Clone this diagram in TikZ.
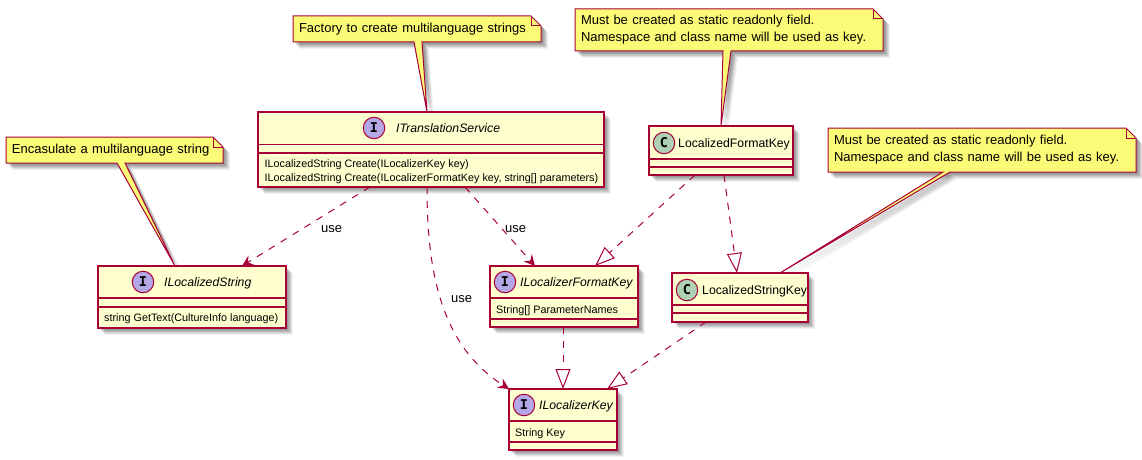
\documentclass[tikz,border=0pt]{standalone}
\usepackage{fontspec}
\setmainfont{Liberation Sans}
\newfontfamily\circfont{DejaVu Sans Mono}
\usetikzlibrary{arrows.meta,calc,backgrounds}
\definecolor{umlline}{HTML}{A80036}
\definecolor{umlfill}{HTML}{FEFECE}
\definecolor{umlnote}{HTML}{FBFB77}
\definecolor{circI}{HTML}{B4A7E5}
\definecolor{circC}{HTML}{ADD1B2}
\tikzset{
  softshadow/.style={
    preaction={fill=black,fill opacity=.09,transform canvas={shift={(2pt,-2pt)}}},
    preaction={fill=black,fill opacity=.09,transform canvas={shift={(3pt,-3pt)}}},
    preaction={fill=black,fill opacity=.09,transform canvas={shift={(4pt,-4pt)}}},
    preaction={fill=black,fill opacity=.09,transform canvas={shift={(5pt,-5pt)}}},
    preaction={fill=black,fill opacity=.07,transform canvas={shift={(6pt,-6pt)}}},
    preaction={fill=black,fill opacity=.05,transform canvas={shift={(7pt,-7pt)}}}},
  classbox/.style={draw=umlline,fill=umlfill,line width=1.2pt,anchor=north west,inner sep=0pt,outer sep=0pt,softshadow},
  classline/.style={draw=umlline,line width=1.2pt},
  notebox/.style={anchor=north west,inner sep=0pt,outer sep=0pt,align=left,font=\fontsize{13}{17}\selectfont},
  notepath/.style={draw=umlline,fill=umlnote,line width=1pt,line join=miter,softshadow},
  foldpath/.style={draw=umlline,line width=1pt},
  badge/.style={circle,draw=umlline,line width=1pt,minimum size=21.5pt,inner sep=0pt,font=\circfont\bfseries\fontsize{13.5}{13.5}\selectfont},
  titletext/.style={anchor=base west,inner sep=0pt,font=\fontsize{12.25}{12.25}\selectfont},
  membertext/.style={anchor=base west,inner sep=0pt,font=\fontsize{10.8}{10.8}\selectfont},
  labeltext/.style={anchor=base west,inner sep=0pt,font=\fontsize{13}{13}\selectfont},
  usearrow/.style={draw=umlline,line width=1pt,dash pattern=on 7pt off 7pt,-{Stealth[length=11pt,width=11pt,inset=4pt]}},
  implarrow/.style={draw=umlline,line width=1pt,dash pattern=on 7pt off 7pt,-{Triangle[open,fill=white,length=20pt,width=15pt,line width=1pt]}}
}
\newcommand{\seps}[3]{%
  \draw[classline] ($(#1.north west)+(0,#2)$) -- ($(#1.north east)+(0,#2)$);
  \draw[classline] ($(#1.north west)+(0,#3)$) -- ($(#1.north east)+(0,#3)$);}
\newcommand{\notepoly}[4]{%
  \draw[notepath] (#1.north west) -- ($(#1.north east)+(-10,0)$) -- ($(#1.north east)+(0,10)$) -- (#1.south east)
    -- ($(#1.south west)+(#3,0)$) -- (#4) -- ($(#1.south west)+(#2,0)$) -- (#1.south west) -- cycle;
  \draw[foldpath] ($(#1.north east)+(-10,0)$) -- ($(#1.north east)+(-10,10)$) -- ($(#1.north east)+(0,10)$);}
\begin{document}
\begin{tikzpicture}[x=1pt,y=-1pt]
\useasboundingbox (0,0) rectangle (1142,460);
% class boxes
\node[classbox,minimum width=346pt,minimum height=75pt] (its) at (258,112) {};
\node[classbox,minimum width=188pt,minimum height=62pt] (ils) at (98,266) {};
\node[classbox,minimum width=148pt,minimum height=61pt] (ifk) at (490,266) {};
\node[classbox,minimum width=108pt,minimum height=61pt] (ikey) at (509,389) {};
\node[classbox,minimum width=136pt,minimum height=49pt] (lsk) at (672,273) {};
\node[classbox,minimum width=144pt,minimum height=49pt] (lfk) at (649,126) {};
\seps{its}{32.5}{41}
\seps{ils}{32}{41}
\seps{ifk}{32}{53}
\seps{ikey}{32}{53}
\seps{lsk}{32}{40}
\seps{lfk}{33}{41}
% badges
\node[badge,fill=circI] (bits) at (374,128) {I};
\node[badge,fill=circI] (bils) at (143,282) {I};
\node[badge,fill=circI] (bifk) at (505,282) {I};
\node[badge,fill=circI] (bikey) at (524,405) {I};
\node[badge,fill=circC] (blsk) at (687,290) {C};
\node[badge,fill=circC] (blfk) at (664,143) {C};
% titles
\node[titletext] (tits) at (396,132) {\itshape ITranslationService};
\node[titletext] (tils) at (164,286) {\itshape ILocalizedString};
\node[titletext] (tifk) at (520,286) {\itshape ILocalizerFormatKey};
\node[titletext] (tikey) at (539,409) {\itshape ILocalizerKey};
\node[titletext] (tlsk) at (702,294) {LocalizedStringKey};
\node[titletext] (tlfk) at (678,147) {LocalizedFormatKey};
% members
\node[membertext] (m1) at (264.5,167) {ILocalizedString Create(ILocalizerKey key)};
\node[membertext] (m2) at (264.5,181) {ILocalizedString Create(ILocalizerFormatKey key, string[] parameters)};
\node[membertext] (m3) at (104,321) {string GetText(CultureInfo language)};
\node[membertext] (m4) at (496,313) {String[] ParameterNames};
\node[membertext] (m5) at (515,436) {String Key};
% notes
\node[notebox,minimum width=217pt,minimum height=26pt,text width=205pt] (n1) at (6,137) {Encasulate a multilanguage string};
\node[notebox,minimum width=248pt,minimum height=26pt,text width=236pt] (n2) at (293,16) {Factory to create multilanguage strings};
\node[notebox,minimum width=308pt,minimum height=42pt,text width=296pt] (n3) at (575,9) {Must be created as static readonly field.\\Namespace and class name will be used as key.};
\node[notebox,minimum width=308pt,minimum height=44pt,text width=296pt] (n4) at (828,128) {Must be created as static readonly field.\\Namespace and class name will be used as key.};
\begin{scope}[on background layer]
\notepoly{n1}{111}{119}{$(ils.north west)+(77,0)$}
\notepoly{n2}{121}{129}{$(its.north west)+(169,0)$}
\notepoly{n3}{148}{156}{$(lfk.north west)+(72,0)$}
\notepoly{n4}{115}{122}{$(lsk.north west)+(108,0)$}
\end{scope}
% connectors
\draw[usearrow] ($(its.south west)+(112,0)$) -- ($(ils.north west)+(144,0)$);
\draw[usearrow] ($(its.south west)+(207,0)$) -- ($(ifk.north west)+(45,0)$);
\draw[usearrow] ($(its.south west)+(169,0)$) .. controls ($(its.south west)+(169,83)$) and ($(ikey.north west)+(-69,-44)$) .. (ikey.north west);
\draw[implarrow] ($(lfk.south west)+(46,0)$) -- ($(ifk.north west)+(105,0)$);
\draw[implarrow] ($(lfk.south west)+(75,0)$) -- ($(lsk.north west)+(65,0)$);
\draw[implarrow] ($(ifk.south west)+(73,0)$) -- ($(ikey.north west)+(54,0)$);
\draw[implarrow] ($(lsk.south west)+(34,0)$) -- ($(ikey.north west)+(98,0)$);
% labels
\node[labeltext] (l1) at (321,232) {use};
\node[labeltext] (l2) at (505,232) {use};
\node[labeltext] (l3) at (451,302) {use};
\end{tikzpicture}
\end{document}
